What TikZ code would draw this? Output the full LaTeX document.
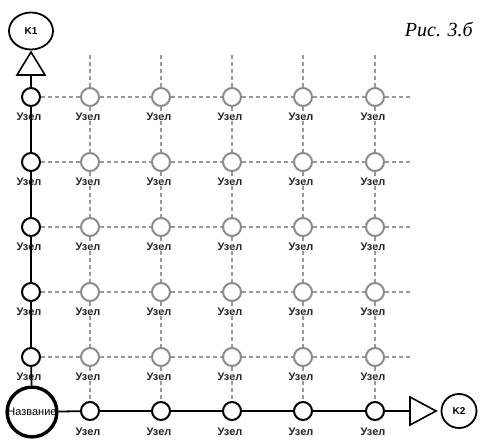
\documentclass[tikz,border=0pt]{standalone}
\usepackage{fontspec}
\setmainfont{Liberation Sans}
\newfontfamily\rmitfont{Liberation Serif}
\usetikzlibrary{shapes.geometric}
\begin{document}
\begin{tikzpicture}[x=1pt,y=-1pt,
 blk/.style={circle,draw=black,line width=2pt,fill=white,minimum size=18pt,inner sep=0pt},
 gry/.style={circle,draw=gray!90,line width=2pt,fill=white,minimum size=18pt,inner sep=0pt},
 lbl/.style={font=\fontsize{11}{11}\selectfont\bfseries,inner sep=0pt,text=black!85},
 gridline/.style={draw=gray!80,line width=1.4pt,dash pattern=on 4pt off 3pt},
 mainline/.style={draw=black,line width=1.8pt},
 term/.style={ellipse,draw=black,line width=1.8pt,fill=white,inner sep=0pt,font=\fontsize{10}{10}\selectfont\bfseries},
]
\useasboundingbox (0,0) rectangle (484,441);

% grid rows (top to bottom)
\foreach \y [count=\r] in {97,162,227,292,357} {
  \node[blk] (L\r) at (31,\y) {};
  \node[lbl] (lL\r) at (29,\y+20) {Узел};
  \coordinate (E\r) at (412,\y);
  \foreach \x [count=\c] in {90,161,232,303,375} {
    \node[gry] (g\r-\c) at (\x,\y) {};
    \node[lbl] (lg\r-\c) at (\x-2,\y+20) {Узел};
  }
}

% bottom row
\node[circle,draw=black,line width=3.4pt,fill=white,minimum size=48pt,inner sep=0pt,
      font=\fontsize{11}{11}\selectfont] (N) at (32,412) {Название};
\foreach \x [count=\c] in {90,161,232,303,375} {
  \node[blk] (B\c) at (\x,411) {};
  \node[lbl] (lB\c) at (\x-2,432) {Узел};
  \coordinate (T\c) at (\x,55);
}

% dashed grid
\foreach \r in {1,...,5} {
  \draw[gridline] (L\r) -- (g\r-1) -- (g\r-2) -- (g\r-3) -- (g\r-4) -- (g\r-5) -- (E\r);
}
\foreach \c in {1,...,5} {
  \draw[gridline] (T\c) -- (g1-\c) -- (g2-\c) -- (g3-\c) -- (g4-\c) -- (g5-\c) -- (B\c);
}

% terminals
\node[term,minimum width=44pt,minimum height=37pt] (K1) at (31,31) {K1};
\node[term,minimum width=35pt,minimum height=34pt] (K2) at (459,411) {K2};
\coordinate (tb1) at (31,75);
\coordinate (tb2) at (410,411);
\draw[line width=1.6pt,fill=white] (31,52) -- (45,75) -- (17,75) -- cycle;
\draw[line width=1.6pt,fill=white] (436,411) -- (410,397) -- (410,425) -- cycle;

% main solid lines
\draw[mainline] (tb1) -- (L1) -- (L2) -- (L3) -- (L4) -- (L5) -- (N) -- (B1) -- (B2) -- (B3) -- (B4) -- (B5) -- (tb2);

% title
\node[anchor=base east,inner sep=0pt,font=\rmitfont\itshape\fontsize{20}{20}\selectfont] (title) at (473,37) {Рис. 3.б};
\end{tikzpicture}
\end{document}
